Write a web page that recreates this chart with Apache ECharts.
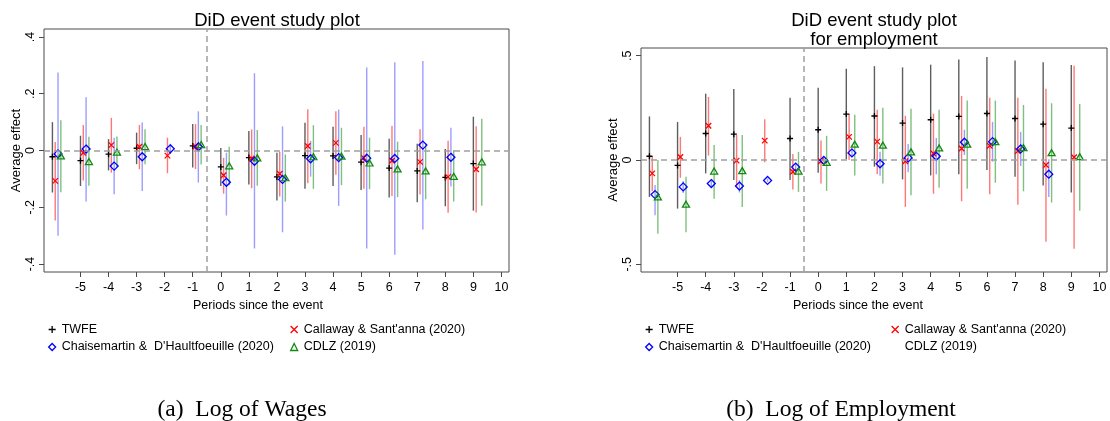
<!DOCTYPE html>
<html lang="en">
<head>
    <meta charset="utf-8" />
    <title>DiD event study plot</title>
    <script src="https://cdn.jsdelivr.net/npm/echarts@6.0.0/dist/echarts.min.js"></script>
    <style>
        html, body { margin: 0; padding: 0; background: #fff; }
        #main { width: 1110px; height: 421px; }
    </style>
</head>
<body>
<div id="main"></div>
<script type="text/javascript">
    // periods since the event
    let periods = [-6, -5, -4, -3, -2, -1, 0, 1, 2, 3, 4, 5, 6, 7, 8, 9]
    let xTicks = [-5, -4, -3, -2, -1, 0, 1, 2, 3, 4, 5, 6, 7, 8, 9, 10]
    let wageTicks = [-0.4, -0.2, 0, 0.2, 0.4]
    let empTicks = [-0.5, 0, 0.5]

    // (a) log of wages
    let wageTwfe   = [-0.022, -0.036, -0.013, 0.008, null, 0.016, -0.058, -0.025, -0.093, -0.018, -0.019, -0.041, -0.062, -0.072, -0.095, -0.046]
    let wageTwfeLo = [-0.148, -0.125, -0.070, -0.048, null, -0.060, -0.125, -0.120, -0.176, -0.135, -0.125, -0.139, -0.166, -0.182, -0.196, -0.212]
    let wageTwfeHi = [0.100, 0.052, 0.040, 0.063, null, 0.093, 0.009, 0.069, -0.008, 0.098, 0.084, 0.055, 0.041, 0.024, 0.005, 0.119]

    let wageCs   = [-0.107, -0.008, 0.019, 0.013, -0.018, 0.014, -0.087, -0.028, -0.082, 0.016, 0.027, -0.026, -0.036, -0.040, -0.093, -0.066]
    let wageCsLo = [-0.247, -0.106, -0.078, -0.066, -0.080, -0.065, -0.152, -0.133, -0.162, -0.115, -0.085, -0.135, -0.160, -0.155, -0.219, -0.218]
    let wageCsHi = [0.030, 0.090, 0.115, 0.090, 0.045, 0.093, -0.026, 0.074, -0.005, 0.145, 0.138, 0.084, 0.086, 0.075, 0.034, 0.085]

    let wageDcdh   = [-0.012, 0.005, -0.055, -0.022, 0.006, 0.013, -0.112, -0.038, -0.102, -0.029, -0.025, -0.027, -0.028, 0.019, -0.024, null]
    let wageDcdhLo = [-0.300, -0.180, -0.154, -0.143, -0.012, -0.113, -0.229, -0.345, -0.288, -0.092, -0.195, -0.345, -0.367, -0.278, -0.127, null]
    let wageDcdhHi = [0.275, 0.188, 0.045, 0.099, 0.024, 0.138, -0.008, 0.272, 0.085, 0.034, 0.144, 0.292, 0.311, 0.315, 0.080, null]

    let wageCdlz   = [-0.019, -0.039, -0.006, 0.014, null, 0.021, -0.054, -0.026, -0.096, -0.022, -0.020, -0.044, -0.065, -0.072, -0.091, -0.040]
    let wageCdlzLo = [-0.147, -0.124, -0.059, -0.048, null, -0.049, -0.122, -0.124, -0.180, -0.135, -0.122, -0.136, -0.164, -0.172, -0.180, -0.195]
    let wageCdlzHi = [0.107, 0.048, 0.049, 0.075, null, 0.090, 0.013, 0.072, -0.014, 0.089, 0.080, 0.045, 0.031, 0.026, 0.002, 0.112]

    // (b) log of employment
    let empTwfe   = [0.018, -0.026, 0.127, 0.124, null, 0.103, 0.145, 0.220, 0.211, 0.177, 0.193, 0.209, 0.223, 0.199, 0.172, 0.153]
    let empTwfeLo = [-0.177, -0.233, -0.064, -0.096, null, -0.096, -0.061, 0.003, -0.032, -0.093, -0.074, -0.068, -0.048, -0.080, -0.122, -0.156]
    let empTwfeHi = [0.209, 0.182, 0.318, 0.341, null, 0.299, 0.346, 0.437, 0.450, 0.444, 0.457, 0.482, 0.494, 0.477, 0.469, 0.455]

    let empCs   = [-0.064, 0.014, 0.164, -0.003, 0.093, -0.056, -0.006, 0.111, 0.088, -0.006, 0.031, 0.055, 0.068, 0.043, -0.024, 0.013]
    let empCsLo = [-0.150, -0.085, 0.021, -0.129, -0.011, -0.141, -0.113, 0.000, -0.068, -0.225, -0.162, -0.198, -0.164, -0.215, -0.392, -0.426]
    let empCsHi = [0.019, 0.111, 0.302, 0.120, 0.195, 0.029, 0.093, 0.220, 0.241, 0.212, 0.222, 0.307, 0.299, 0.299, 0.342, 0.452]

    let empDcdh   = [-0.166, -0.129, -0.113, -0.125, -0.098, -0.034, -0.002, 0.034, -0.018, 0.010, 0.018, 0.085, 0.088, 0.053, -0.068, null]
    let empDcdhLo = [-0.265, -0.158, -0.125, -0.156, -0.105, -0.056, -0.010, 0.015, -0.076, -0.059, -0.068, 0.024, -0.008, -0.029, -0.177, null]
    let empDcdhHi = [-0.120, -0.101, -0.100, -0.096, -0.090, -0.013, 0.006, 0.050, 0.040, 0.077, 0.106, 0.145, 0.183, 0.135, 0.003, null]

    let empCdlz   = [-0.177, -0.212, -0.053, -0.051, null, -0.053, -0.011, 0.076, 0.071, 0.039, 0.058, 0.076, 0.088, 0.059, 0.035, 0.016]
    let empCdlzLo = [-0.354, -0.346, -0.186, -0.225, null, -0.153, -0.148, -0.074, -0.113, -0.169, -0.133, -0.138, -0.109, -0.150, -0.204, -0.243]
    let empCdlzHi = [0.000, -0.080, 0.072, 0.120, null, 0.039, 0.116, 0.217, 0.251, 0.246, 0.241, 0.285, 0.285, 0.264, 0.272, 0.268]

    let nameTwfe = 'TWFE'
    let nameCs = "Callaway & Sant'anna (2020)"
    let nameDcdh = "Chaisemartin &  D'Haultfoeuille (2020)"
    let nameCdlz = 'CDLZ (2019)'

    let fontSans = 'Liberation Sans, Arial, sans-serif'
    let fontSerif = 'Liberation Serif, Times New Roman, serif'
    let frameColor = '#4a4a4a'
    let refColor = '#a0a0a0'

    let symPlus = 'path://M5,0L5,10M0,5L10,5'
    let symCross = 'path://M0,0L10,10M10,0L0,10'

    let colorTwfe = '#000000'
    let colorCs = '#ff0000'
    let colorDcdh = '#0000ff'
    let colorCdlz = '#138a13'
    let ciTwfe = 'rgba(40,40,40,0.75)'
    let ciCs = 'rgba(255,30,30,0.6)'
    let ciDcdh = 'rgba(60,60,255,0.5)'
    let ciCdlz = 'rgba(20,140,20,0.55)'

    // horizontal dodge per estimator
    let dodge = {twfe: 0, cs: 0.1, dcdh: 0.2, cdlz: 0.3}

    const points = (est, d) => periods.map((p, i) => [p + d, est[i]]).filter(v => v[1] != null)
    const ranges = (lo, hi, d) => periods.map((p, i) => [p + d, lo[i], hi[i]]).filter(v => v[1] != null)

    const ciRender = (color) => function (params, api) {
        let a = api.coord([api.value(0), api.value(1)])
        let b = api.coord([api.value(0), api.value(2)])
        return {
            type: 'line',
            shape: {x1: a[0], y1: a[1], x2: b[0], y2: b[1]},
            style: {stroke: color, lineWidth: 1.4}
        }
    }

    const yFormat = (v) => {
        if (Math.abs(v) < 1e-9) return '0'
        return (v < 0 ? '-' : '') + String(+Math.abs(v).toFixed(2)).replace(/^0/, '')
    }

    const ciSeries = (name, idx, lo, hi, d, color) => ({
        name: name, type: 'custom', xAxisIndex: idx, yAxisIndex: idx,
        renderItem: ciRender(color), encode: {x: 0, y: [1, 2]},
        data: ranges(lo, hi, d), silent: true, z: 2
    })

    const ptSeries = (name, idx, est, d, symbol, size, color) => ({
        name: name, type: 'scatter', xAxisIndex: idx, yAxisIndex: idx,
        symbol: symbol, symbolSize: size,
        itemStyle: {color: 'transparent', borderColor: color, borderWidth: 1.3, opacity: 1},
        data: points(est, d), z: 3
    })

    const refSeries = (idx) => ({
        type: 'line', xAxisIndex: idx, yAxisIndex: idx, data: [], silent: true,
        markLine: {
            symbol: 'none', silent: true, label: {show: false},
            lineStyle: {color: refColor, type: [6, 4], width: 1.5},
            data: [{yAxis: 0}, {xAxis: -0.5}]
        }
    })

    const xAxisFor = (idx) => ({
        type: 'value', gridIndex: idx, min: -6.3, max: 10.27, position: 'bottom',
        axisLine: {show: false, onZero: false}, splitLine: {show: false},
        axisTick: {show: true, length: 5, lineStyle: {color: frameColor}, customValues: xTicks},
        axisLabel: {color: '#000', fontFamily: fontSans, fontSize: 12.5, margin: 9, customValues: xTicks}
    })

    const yAxisFor = (idx, lim, ticks, gap) => ({
        type: 'value', gridIndex: idx, min: -lim, max: lim, position: 'left',
        name: 'Average effect', nameLocation: 'middle', nameGap: gap, nameRotate: 90,
        nameTextStyle: {color: '#000', fontFamily: fontSans, fontSize: 13},
        axisLine: {show: false, onZero: false}, splitLine: {show: false},
        axisTick: {show: true, length: 5, lineStyle: {color: frameColor}, customValues: ticks},
        axisLabel: {color: '#000', fontFamily: fontSans, fontSize: 12.5, margin: 7, rotate: 90,
            formatter: yFormat, customValues: ticks}
    })

    const legendItem = (name, icon, color, hide) => ({
        name: name, icon: icon,
        itemStyle: {color: 'transparent', borderColor: color, borderWidth: 1.3, opacity: hide ? 0 : 1}
    })

    const legendBox = (left, items) => ({
        orient: 'vertical', left: left, top: 323, padding: 0,
        itemWidth: 7, itemHeight: 7, itemGap: 4.5, selectedMode: false,
        textStyle: {color: '#000', fontFamily: fontSans, fontSize: 12.5, padding: [0, 0, 0, 1]},
        data: items
    })

    let myChart = echarts.init(document.getElementById('main'), null, {renderer: 'canvas'})

    let series = []
    let panels = [
        {twfe: [wageTwfe, wageTwfeLo, wageTwfeHi], cs: [wageCs, wageCsLo, wageCsHi],
            dcdh: [wageDcdh, wageDcdhLo, wageDcdhHi], cdlz: [wageCdlz, wageCdlzLo, wageCdlzHi]},
        {twfe: [empTwfe, empTwfeLo, empTwfeHi], cs: [empCs, empCsLo, empCsHi],
            dcdh: [empDcdh, empDcdhLo, empDcdhHi], cdlz: [empCdlz, empCdlzLo, empCdlzHi]}
    ]
    panels.forEach((p, idx) => {
        series.push(refSeries(idx))
        series.push(ciSeries(nameTwfe, idx, p.twfe[1], p.twfe[2], dodge.twfe, ciTwfe))
        series.push(ciSeries(nameCs, idx, p.cs[1], p.cs[2], dodge.cs, ciCs))
        series.push(ciSeries(nameDcdh, idx, p.dcdh[1], p.dcdh[2], dodge.dcdh, ciDcdh))
        series.push(ciSeries(nameCdlz, idx, p.cdlz[1], p.cdlz[2], dodge.cdlz, ciCdlz))
        series.push(ptSeries(nameTwfe, idx, p.twfe[0], dodge.twfe, symPlus, 6, colorTwfe))
        series.push(ptSeries(nameCs, idx, p.cs[0], dodge.cs, symCross, 5.5, colorCs))
        series.push(ptSeries(nameDcdh, idx, p.dcdh[0], dodge.dcdh, 'diamond', 8, colorDcdh))
        series.push(ptSeries(nameCdlz, idx, p.cdlz[0], dodge.cdlz, 'triangle', [7, 6], colorCdlz))
    })

    myChart.setOption({
        backgroundColor: '#ffffff',
        animation: false,
        title: [
            {text: 'DiD event study plot', left: 272, top: 6, textAlign: 'center',
                textStyle: {fontFamily: fontSans, fontSize: 18.5, fontWeight: 'normal', color: '#000', lineHeight: 20}},
            {text: 'DiD event study plot\nfor employment', left: 869, top: 7, textAlign: 'center',
                textStyle: {fontFamily: fontSans, fontSize: 18.5, fontWeight: 'normal', color: '#000', lineHeight: 18.5}},
            {text: 'Periods since the event', left: 253, top: 294, textAlign: 'center',
                textStyle: {fontFamily: fontSans, fontSize: 12.5, fontWeight: 'normal', color: '#000'}},
            {text: 'Periods since the event', left: 853, top: 294, textAlign: 'center',
                textStyle: {fontFamily: fontSans, fontSize: 12.5, fontWeight: 'normal', color: '#000'}},
            {text: '(a)  Log of Wages', left: 237, top: 393, textAlign: 'center',
                textStyle: {fontFamily: fontSerif, fontSize: 23.5, fontWeight: 'normal', color: '#000'}},
            {text: '(b)  Log of Employment', left: 836, top: 393, textAlign: 'center',
                textStyle: {fontFamily: fontSerif, fontSize: 23.5, fontWeight: 'normal', color: '#000'}}
        ],
        legend: [
            legendBox(48, [legendItem(nameTwfe, symPlus, colorTwfe), legendItem(nameDcdh, 'diamond', colorDcdh)]),
            legendBox(290, [legendItem(nameCs, symCross, colorCs), legendItem(nameCdlz, 'triangle', colorCdlz)]),
            legendBox(645, [legendItem(nameTwfe, symPlus, colorTwfe), legendItem(nameDcdh, 'diamond', colorDcdh)]),
            legendBox(891, [legendItem(nameCs, symCross, colorCs), legendItem(nameCdlz, 'triangle', colorCdlz, true)])
        ],
        grid: [
            {left: 44, top: 29, width: 465, height: 243, show: true, borderColor: frameColor, borderWidth: 1, backgroundColor: '#fff'},
            {left: 641, top: 48, width: 466, height: 224, show: true, borderColor: frameColor, borderWidth: 1, backgroundColor: '#fff'}
        ],
        xAxis: [xAxisFor(0), xAxisFor(1)],
        yAxis: [yAxisFor(0, 0.428, wageTicks, 13), yAxisFor(1, 0.537, empTicks, 11)],
        series: series
    })
</script>
</body>
</html>
